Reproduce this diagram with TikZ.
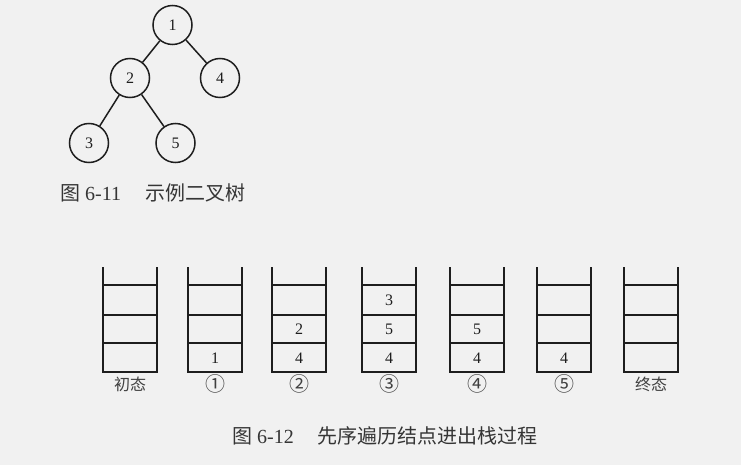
\documentclass[tikz,border=0pt]{standalone}
\usepackage{fontspec}
\setmainfont{Liberation Serif}
\newfontfamily\cjk{Noto Sans CJK SC}
\definecolor{bgc}{HTML}{F1F1F1}
\definecolor{ink}{HTML}{1E1E1E}
\begin{document}
\begin{tikzpicture}[x=1pt,y=-1pt,
  tnode/.style={circle,draw=ink,line width=1.5pt,minimum size=39pt,inner sep=0pt,font=\fontsize{16}{16}\selectfont,text=ink},
  edge/.style={draw=ink,line width=1.5pt},
  wall/.style={draw=ink,line width=1.5pt},
  cell/.style={font=\fontsize{16}{16}\selectfont,text=ink,inner sep=0pt},
  lab/.style={font=\fontsize{16}{16}\selectfont\cjk,text=ink!85,inner sep=0pt},
  circlab/.style={font=\fontsize{20}{20}\selectfont\cjk,text=ink!85,inner sep=0pt},
  captxt/.style={font=\fontsize{20}{20}\selectfont,text=ink!90,inner sep=0pt,anchor=west}]
\fill[bgc] (0,0) rectangle (741,465);
\useasboundingbox (0,0) rectangle (741,465);
% tree
\node[tnode] (n1) at (172.5,25) {1};
\node[tnode] (n2) at (130,78) {2};
\node[tnode] (n4) at (220,78) {4};
\node[tnode] (n3) at (89,143) {3};
\node[tnode] (n5) at (175.5,143) {5};
\draw[edge] (n1) -- (n2);
\draw[edge] (n1) -- (n4);
\draw[edge] (n2) -- (n3);
\draw[edge] (n2) -- (n5);
\node[captxt] (c1) at (60,193) {{\cjk 图} 6-11\hspace{24pt}{\cjk 示例二叉树}};
% stacks
\foreach \lx/\lb/\ls/\a/\b/\c [count=\i] in {103/{初态}/lab/{}/{}/{}, 188/{①}/circlab/1/{}/{}, 272/{②}/circlab/4/2/{}, 362/{③}/circlab/4/5/3, 450/{④}/circlab/4/5/{}, 537/{⑤}/circlab/4/{}/{}, 624/{终态}/lab/{}/{}/{}}{
  \draw[wall] (\lx,267) -- (\lx,372) -- (\lx+54,372) -- (\lx+54,267);
  \draw[wall] (\lx,285) -- (\lx+54,285);
  \draw[wall] (\lx,315) -- (\lx+54,315);
  \draw[wall] (\lx,343) -- (\lx+54,343);
  \node[cell] (s\i a) at (\lx+27,358) {\a};
  \node[cell] (s\i b) at (\lx+27,329) {\b};
  \node[cell] (s\i c) at (\lx+27,300) {\c};
  \node[\ls] (l\i) at (\lx+27,384) {\lb};
}
\node[captxt] (c2) at (232,436) {{\cjk 图} 6-12\hspace{24pt}{\cjk 先序遍历结点进出栈过程}};
\end{tikzpicture}
\end{document}
